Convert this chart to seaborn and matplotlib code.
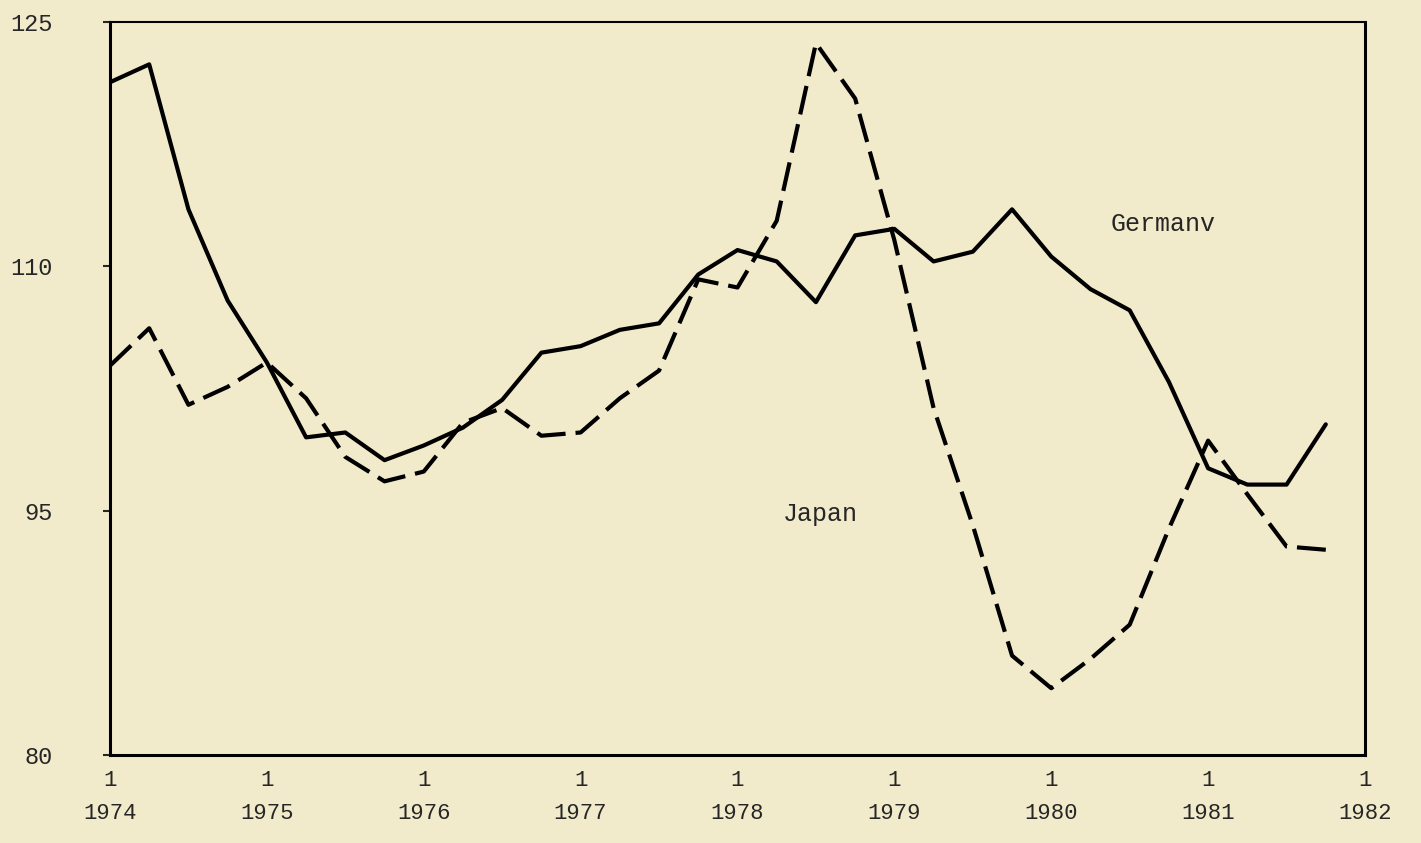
import numpy as np
import pandas as pd
import matplotlib
matplotlib.use("Agg")
import matplotlib.pyplot as plt
import seaborn as sns

# ==========================================
# DATA (quarterly index, 1974 Q1 - 1981 Q4)
# ==========================================

quarters = 1974 + np.arange(32) / 4

germany = [121.3, 122.4, 113.5, 107.9, 104.1, 99.5, 99.8, 98.1,
           99.0, 100.1, 101.8, 104.7, 105.1, 106.1, 106.5, 109.5,
           111.0, 110.3, 107.8, 111.9, 112.3, 110.3, 110.9, 113.5,
           110.6, 108.6, 107.3, 102.9, 97.6, 96.6, 96.6, 100.3]

japan = [103.9, 106.2, 101.5, 102.6, 104.1, 101.9, 98.3, 96.8,
         97.4, 100.4, 101.3, 99.6, 99.8, 101.9, 103.6, 109.2,
         108.7, 112.8, 123.7, 120.3, 111.6, 101.3, 94.1, 86.1,
         84.1, 85.9, 88.0, 93.9, 99.3, 96.0, 92.8, 92.6]

year_ticks = list(range(1974, 1983))
y_ticks = [80, 95, 110, 125]

df = pd.DataFrame({
    "quarter": np.concatenate([quarters, quarters]),
    "value": germany + japan,
    "country": ["Germany"] * len(germany) + ["Japan"] * len(japan),
})

# ==========================================
# PLOT
# ==========================================

paper = "#f2ebcb"
sns.set_style("ticks")
plt.rcParams["font.family"] = ["Liberation Mono", "DejaVu Sans Mono"]

fig = plt.figure(figsize=(14.21, 8.43), dpi=100, facecolor=paper)
ax = fig.add_axes([0.0774, 0.1044, 0.8832, 0.8695])
ax.set_facecolor(paper)

sns.lineplot(
    data=df,
    x="quarter",
    y="value",
    style="country",
    dashes={"Germany": "", "Japan": (7.0, 2.4)},
    color="black",
    linewidth=3.0,
    legend=False,
    ax=ax,
)

ax.set_xlim(1974, 1982)
ax.set_ylim(80, 125)

ax.set_xticks(year_ticks)
ax.set_xticklabels([f"1\n{y}" for y in year_ticks], fontsize=16,
                   linespacing=1.75)
ax.set_yticks(y_ticks)
ax.set_yticklabels([str(v) for v in y_ticks], fontsize=17)

ax.tick_params(axis="x", length=0, pad=11)
ax.tick_params(axis="y", length=5, width=1.5, pad=36)

for side in ["left", "right", "bottom", "top"]:
    ax.spines[side].set_visible(True)
    ax.spines[side].set_color("black")
    ax.spines[side].set_linewidth(2.2)
ax.spines["top"].set_linewidth(1.5)

ax.set_xlabel("")
ax.set_ylabel("")

ax.text(1980.38, 112.6, "Germanv", fontsize=18, ha="left", va="center")
ax.text(1978.29, 94.8, "Japan", fontsize=18, ha="left", va="center")

plt.savefig("out.png", dpi=100, facecolor=paper)
